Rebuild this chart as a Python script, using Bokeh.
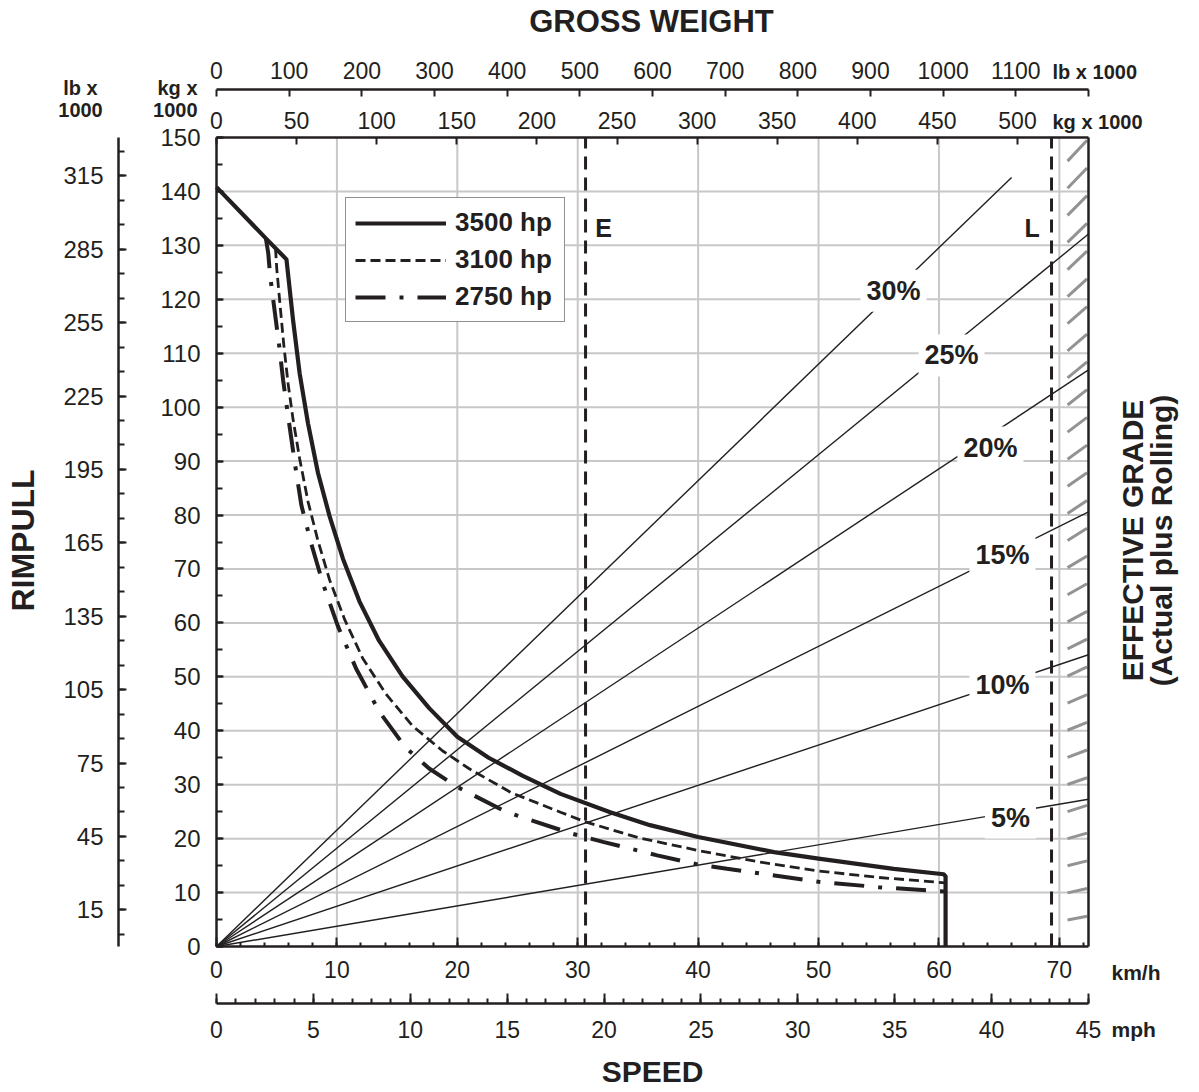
import numpy as np
from bokeh.plotting import figure
from bokeh.models import (Range1d, LinearAxis, FixedTicker, Label, Legend, LegendItem)
from bokeh.embed import file_html
from bokeh.resources import INLINE

# ---------------- data ----------------
KMH_MAX = 72.42        # frame right edge (= 45 mph)
MPH_MAX = 45
KG_MAX = 544.31        # gross weight, kg x 1000 (= 1200 lb x 1000)
LB_MAX = 1200
RIM_MAX = 150          # rimpull, kg x 1000
RIM_LB_MAX = 330.69    # rimpull, lb x 1000

speed_3500 = [0, 4.1, 5.81, 6.36, 6.91, 7.6, 8.43, 9.39, 10.5, 11.87, 13.5, 15.45, 17.66,
              20.0, 22.6, 25.4, 28.57, 32.7, 36.0, 40.0, 46.3, 50.0, 56.25, 60.4, 60.55, 60.55]
rimpull_3500 = [140.8, 131.3, 127.4, 116.1, 106.2, 97.0, 87.8, 79.8, 71.9, 64.0, 56.7, 50.1, 44.2,
                38.9, 35.0, 31.7, 28.3, 24.9, 22.5, 20.3, 17.5, 16.3, 14.4, 13.4, 13.0, 0]

speed_3100 = [4.9, 5.0, 5.26, 5.59, 5.95, 6.36, 6.91, 7.6, 8.43, 9.39, 10.63, 12.15, 14.08,
              16.28, 18.76, 20.96, 24.5, 28.57, 30.65, 35.0, 40.0, 45.0, 50.0, 55.0, 60.55]
rimpull_3100 = [129.5, 125.8, 119.4, 111.5, 104.3, 97.7, 90.4, 82.5, 75.2, 68.0, 60.7, 53.4, 46.8,
                40.9, 36.3, 33.0, 28.5, 24.9, 23.1, 20.2, 17.8, 15.7, 14.0, 12.8, 11.8]

speed_2750 = [4.1, 4.3, 4.44, 4.66, 4.93, 5.2, 5.54, 5.95, 6.5, 7.05, 7.88, 8.84, 10.08, 11.6,
              13.53, 15.7, 17.66, 19.9, 24.0, 29.4, 32.1, 36.6, 40.0, 42.4, 50.0, 55.0, 59.0, 60.55]
rimpull_2750 = [131.3, 128.5, 124.7, 120.8, 116.1, 111.5, 104.9, 98.3, 89.7, 81.8, 74.6, 67.3, 59.4, 51.5,
                43.5, 36.9, 33.0, 29.7, 25.0, 21.0, 19.4, 16.9, 15.2, 14.4, 12.0, 11.0, 10.4, 10.2]

grade_names = ["30%", "25%", "20%", "15%", "10%", "5%"]
grade_end_weight = [496.3, 544.3, 544.3, 544.3, 544.3, 544.3]     # kg x 1000
grade_end_rimpull = [142.6, 132.1, 106.9, 80.6, 54.1, 27.3]       # kg x 1000

speed_E = 30.65
speed_L = 69.35

kmh_ticks = list(range(0, 71, 10))
kmh_minor = list(range(0, 73, 2))
mph_ticks = list(range(0, 46, 5))
mph_minor = list(range(0, 46, 1))
kg_top_ticks = list(range(0, 501, 50))
lb_top_ticks = list(range(0, 1201, 100))
kg_left_ticks = list(range(0, 151, 10))
kg_left_minor = list(range(0, 151, 5))
lb_left_ticks = list(range(15, 316, 30))
lb_left_minor = list(range(5, 330, 10))

# ---------------- layout / style ----------------
INK = "#231f20"
GRID = "#c8c8c8"
FONT = "Liberation Sans"
W, H = 1196, 1090
FL, FR, FT, FB = 216, 1088, 137, 946   # chart box in canvas px


def rng(v0, v1, p0, p1, c0, c1):
    s = (p1 - p0) / (v1 - v0)
    return Range1d(v0 + (c0 - p0) / s, v0 + (c1 - p0) / s)


def x_at(px):
    return (px - FL) / (FR - FL) * KMH_MAX


def y_at(py):
    return (FB - py) / (FB - FT) * RIM_MAX


p = figure(width=W, height=H,
           x_range=rng(0, KMH_MAX, FL, FR, 0, W), y_range=rng(0, RIM_MAX, FB, FT, H, 0),
           x_axis_type=None, y_axis_type=None, output_backend="svg", toolbar_location=None,
           min_border_left=0, min_border_right=0, min_border_top=0, min_border_bottom=0)
if p.title is not None:
    p.title.visible = False
p.extra_x_ranges = {"kg": rng(0, KG_MAX, FL, FR, 0, W), "lb": rng(0, LB_MAX, FL, FR, 0, W),
                    "mph": rng(0, MPH_MAX, FL, FR, 0, W)}
p.extra_y_ranges = {"lbr": rng(0, RIM_LB_MAX, FB, FT, H, 0)}
p.outline_line_color = None
p.background_fill_color = "white"
p.border_fill_color = "white"


def style_axis(ax, size, standoff, tin, mtin):
    ax.axis_line_color = INK
    ax.axis_line_width = 2.5
    ax.major_tick_line_color = INK
    ax.minor_tick_line_color = INK
    ax.major_tick_line_width = 2
    ax.minor_tick_line_width = 2
    ax.major_tick_in = tin
    ax.major_tick_out = 0
    ax.minor_tick_in = mtin
    ax.minor_tick_out = 0
    ax.major_label_text_font = FONT
    ax.major_label_text_font_size = f"{size}px"
    ax.major_label_text_color = INK
    ax.major_label_standoff = standoff


# grid lines (under everything)
p.segment(x0=kmh_ticks[1:], y0=[0] * 7, x1=kmh_ticks[1:], y1=[RIM_MAX] * 7,
          line_color=GRID, line_width=2)
p.segment(x0=[0] * 14, y0=kg_left_ticks[1:-1], x1=[KMH_MAX] * 14, y1=kg_left_ticks[1:-1],
          line_color=GRID, line_width=2)

# left axes
kg_left = LinearAxis(ticker=FixedTicker(ticks=kg_left_ticks, minor_ticks=kg_left_minor),
                     fixed_location=0, bounds=(0, RIM_MAX))
style_axis(kg_left, 24, 16, 7, 6)
p.add_layout(kg_left, "left")

lb_left = LinearAxis(y_range_name="lbr", fixed_location=x_at(118), bounds=(0, RIM_LB_MAX),
                     ticker=FixedTicker(ticks=lb_left_ticks, minor_ticks=lb_left_minor))
style_axis(lb_left, 24, 15, 8, 6)
p.add_layout(lb_left, "left")

# right edge of the chart box
right_edge = LinearAxis(ticker=FixedTicker(ticks=[], minor_ticks=[]), fixed_location=KMH_MAX,
                        bounds=(0, RIM_MAX))
style_axis(right_edge, 1, 0, 0, 0)
p.add_layout(right_edge, "right")

# top axes
kg_top = LinearAxis(x_range_name="kg", ticker=FixedTicker(ticks=kg_top_ticks, minor_ticks=[]),
                    fixed_location=RIM_MAX, bounds=(0, KG_MAX))
style_axis(kg_top, 23, 9, 7, 0)
p.add_layout(kg_top, "above")

lb_top = LinearAxis(x_range_name="lb", ticker=FixedTicker(ticks=lb_top_ticks, minor_ticks=[]),
                    fixed_location=y_at(89), bounds=(0, LB_MAX))
style_axis(lb_top, 23, 11, 7, 0)
lb_top.major_label_overrides = {1200: ""}
p.add_layout(lb_top, "above")

# bottom axes
kmh_ax = LinearAxis(ticker=FixedTicker(ticks=kmh_ticks, minor_ticks=kmh_minor),
                    fixed_location=0, bounds=(0, KMH_MAX))
style_axis(kmh_ax, 23, 14, 9, 4)
p.add_layout(kmh_ax, "below")

mph_ax = LinearAxis(x_range_name="mph", ticker=FixedTicker(ticks=mph_ticks, minor_ticks=mph_minor),
                    fixed_location=y_at(1003), bounds=(0, MPH_MAX))
style_axis(mph_ax, 23, 17, 10, 5)
p.add_layout(mph_ax, "below")

# hatching at right edge (decorative)
hy = np.linspace(5.6, 149.5, 29)
hdy = (3 + 0.12 * hy) / 5.393
p.segment(x0=[70.68] * len(hy), y0=list(hy - hdy), x1=[72.3] * len(hy), y1=list(hy),
          line_color="#939393", line_width=3)

# grade lines (drawn against gross weight scale)
p.segment(x0=[0] * 6, y0=[0] * 6, x1=grade_end_weight, y1=grade_end_rimpull,
          x_range_name="kg", line_color=INK, line_width=1.4)

# E / L limits
p.segment(x0=[speed_E, speed_L], y0=[0, 0], x1=[speed_E, speed_L], y1=[RIM_MAX, RIM_MAX],
          line_color=INK, line_width=3, line_dash="13 8")

# rimpull curves
r2750 = p.line(speed_2750, rimpull_2750, line_color=INK, line_width=4, line_dash="30 14 4 14")
r3100 = p.line(speed_3100, rimpull_3100, line_color=INK, line_width=2.8, line_dash="10 5")
r3500 = p.line(speed_3500, rimpull_3500, line_color=INK, line_width=4.2, line_join="round")

legend = Legend(items=[LegendItem(label="3500 hp", renderers=[r3500]),
                       LegendItem(label="3100 hp", renderers=[r3100]),
                       LegendItem(label="2750 hp", renderers=[r2750])],
                location=(345, H - 322), orientation="vertical",
                glyph_width=91, glyph_height=30, label_height=30, label_width=100,
                label_standoff=9, padding=9, spacing=6, margin=0,
                label_text_font=FONT, label_text_font_size="26px", label_text_font_style="bold",
                label_text_color=INK, border_line_color=INK, border_line_width=1.5,
                background_fill_color="white", background_fill_alpha=1.0)
p.add_layout(legend)

# grade labels (white boxes over the lines)
grade_label_pos = [(422.6, 121.6), (458.8, 109.6), (483.1, 92.5),
                   (490.6, 72.5), (490.6, 48.4), (495.6, 23.9)]
for name, (gx, gy) in zip(grade_names, grade_label_pos):
    p.add_layout(Label(x=gx, y=gy, x_range_name="kg", text=name, text_font=FONT,
                       text_font_size="27px", text_font_style="bold", text_color=INK,
                       text_align="center", text_baseline="middle",
                       background_fill_color="white", padding=6))

for name, sx in (("E", 32.14), ("L", 67.73)):
    p.add_layout(Label(x=sx, y=y_at(227), text=name, text_font=FONT, text_font_size="25px",
                       text_font_style="bold", text_color=INK, text_align="center",
                       text_baseline="middle"))


def page_text(px, py, text, size, bold=True, align="center", angle=0.0):
    p.add_layout(Label(x=px, y=H - py, x_units="screen", y_units="screen", text=text,
                       text_font=FONT, text_font_size=f"{size}px",
                       text_font_style="bold" if bold else "normal", text_color=INK,
                       text_align=align, text_baseline="middle", angle=angle))


page_text(651, 21, "GROSS WEIGHT", 31)
page_text(652, 1071, "SPEED", 30)
page_text(22, 540, "RIMPULL", 32, angle=np.pi / 2)
page_text(1132, 540, "EFFECTIVE GRADE", 30, angle=np.pi / 2)
page_text(1161, 540, "(Actual plus Rolling)", 30, angle=np.pi / 2)
page_text(80, 87, "lb x", 20)
page_text(80, 109, "1000", 20)
page_text(197, 87, "kg x", 20, align="right")
page_text(197, 109, "1000", 20, align="right")
page_text(1052, 71, "lb x 1000", 20, align="left")
page_text(1052, 121, "kg x 1000", 20, align="left")
page_text(1111, 972, "km/h", 21, align="left")
page_text(1111, 1029, "mph", 21, align="left")

open("out.html", "w").write(file_html(p, INLINE))
